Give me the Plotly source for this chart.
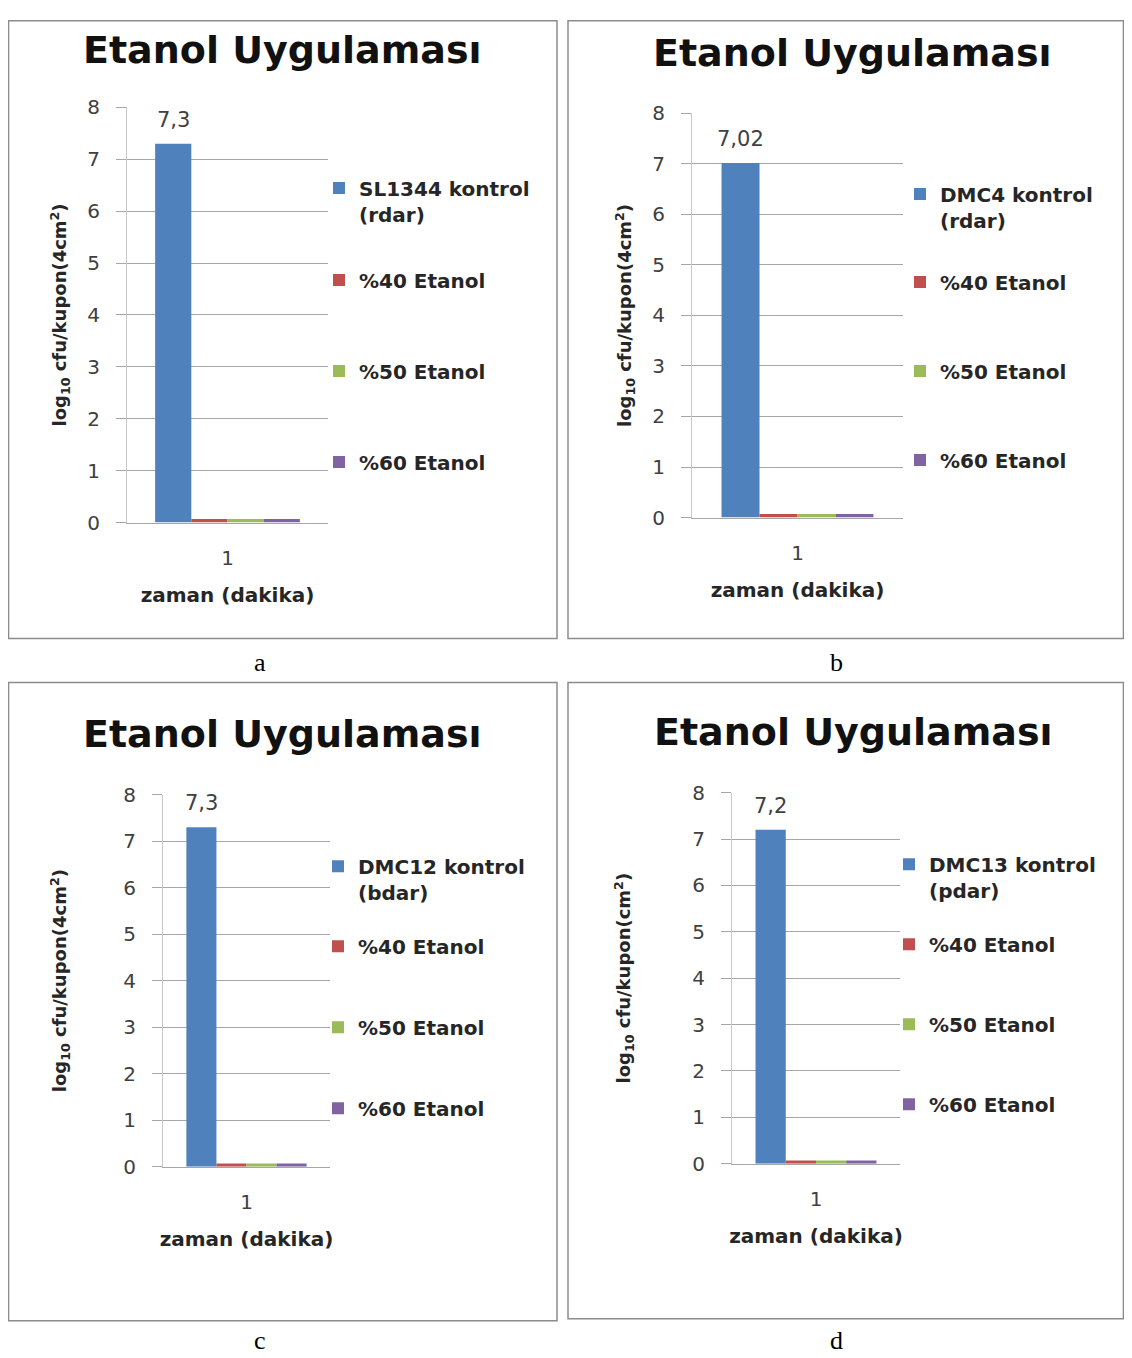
import plotly.graph_objects as go

# ---------------- data ----------------
categories = ["1"]
control_names = ["SL1344 kontrol<br>(rdar)", "DMC4 kontrol<br>(rdar)",
                 "DMC12 kontrol<br>(bdar)", "DMC13 kontrol<br>(pdar)"]
control_values = [7.3, 7.02, 7.3, 7.2]
etanol40_values = [0.07, 0.07, 0.07, 0.07]
etanol50_values = [0.07, 0.07, 0.07, 0.07]
etanol60_values = [0.07, 0.07, 0.07, 0.07]
etanol_names = ["%40 Etanol", "%50 Etanol", "%60 Etanol"]
y_titles = ["log<sub>10</sub> cfu/kupon(4cm<sup>2</sup>)",
            "log<sub>10</sub> cfu/kupon(4cm<sup>2</sup>)",
            "log<sub>10</sub> cfu/kupon(4cm<sup>2</sup>)",
            "log<sub>10</sub> cfu/kupon(cm<sup>2</sup>)"]
y_tick_values = [0, 1, 2, 3, 4, 5, 6, 7, 8]
chart_title = "Etanol Uygulaması"
x_title = "zaman (dakika)"
captions = ["a", "b", "c", "d"]

# ---------------- styling / layout (target pixels) ----------------
W, H = 1116, 1358
OX, OY, SY = 8, 20, 0.982
colors = ["#4F81BD", "#C0504D", "#9BBB59", "#8064A2"]
BARGAP = 0.28
panels = [
    dict(plot=(127, 328, 107, 522), title=(282, 50), leg=(341, 188), leg2=280, leggap=62, ystand=15,
         box=(5, 2, 557, 638), cap=(260, 662)),
    dict(plot=(692, 903, 113, 517), title=(852, 53), leg=(922, 194), leg2=282, leggap=60, ystand=15,
         box=(568, 2, 1131, 638), cap=(836, 662)),
    dict(plot=(163, 330, 794, 1166), title=(282, 733), leg=(340, 866), leg2=946, leggap=52, ystand=51,
         box=(5, 682, 557, 1320), cap=(260, 1340)),
    dict(plot=(732, 900, 792, 1163), title=(853, 731), leg=(911, 864), leg2=944, leggap=51, ystand=56,
         box=(568, 682, 1131, 1318), cap=(836, 1340)),
]
FONT = "DejaVu Sans"
GRID = "#A6A6A6"


def fx(px):
    return min(max((px - OX) / W, 0.0005), 0.9995)


def fy(py):
    return min(max(1 - (py / SY - OY) / H, 0.0005), 0.9995)


fig = go.Figure()
layout = dict(width=W, height=H, margin=dict(l=0, r=0, t=0, b=0),
              paper_bgcolor="white", plot_bgcolor="white", showlegend=True,
              barmode="group", bargap=BARGAP, bargroupgap=0,
              annotations=[], shapes=[], font=dict(family=FONT))

legend_font = dict(family=FONT, size=20, color="#262626", weight="bold")

for i, p in enumerate(panels):
    k = "" if i == 0 else str(i + 1)
    xa, ya = "x" + k, "y" + k
    leg_ctrl = "legend" if i == 0 else f"legend{2 * i + 1}"
    leg_et = f"legend{2 * i + 2}"
    series = [(control_names[i], control_values[i], leg_ctrl)] + [
        (etanol_names[j], [etanol40_values, etanol50_values, etanol60_values][j][i], leg_et)
        for j in range(3)]
    for s, (name, val, lg) in enumerate(series):
        fig.add_trace(go.Bar(x=categories, y=[val], name=name, marker_color=colors[s],
                             marker_line_width=0, xaxis=xa, yaxis=ya, legend=lg,
                             showlegend=True,
                             legendgroup=f"g{i}_{s}", hoverinfo="skip"))
    x0, x1, y0, y1 = p["plot"]
    layout["xaxis" + k] = dict(domain=[fx(x0), fx(x1)], anchor=ya, type="category",
                               showline=True, linecolor=GRID, ticks="", showgrid=False,
                               tickfont=dict(family=FONT, size=20, color="#404040"),
                               ticklabelstandoff=17,
                               title=dict(text=f"<b>{x_title}</b>", standoff=19,
                                          font=dict(family=FONT, size=20, color="#262626")))
    layout["yaxis" + k] = dict(domain=[fy(y1), fy(y0)], anchor=xa, range=[0, 8],
                               tickvals=y_tick_values, showgrid=True, gridcolor=GRID, gridwidth=1,
                               zeroline=False, showline=True, linecolor="#C8C8C8",
                               ticks="outside", ticklen=10, tickcolor=GRID,
                               ticklabelstandoff=12,
                               tickfont=dict(family=FONT, size=20, color="#404040"),
                               title=dict(text=f"<b>{y_titles[i]}</b>", standoff=p["ystand"],
                                          font=dict(family=FONT, size=18, color="#262626")))
    lx, ly = p["leg"]
    layout[leg_ctrl] = dict(x=fx(lx - 22), y=fy(ly - 20), xanchor="left", yanchor="top",
                            xref="paper", yref="paper", valign="top", visible=True,
                            bgcolor="rgba(0,0,0,0)", font=legend_font)
    layout[leg_et] = dict(x=fx(lx - 22), y=fy(p["leg2"] - 20), xanchor="left", yanchor="top",
                          xref="paper", yref="paper", tracegroupgap=p["leggap"], valign="top",
                          visible=True, bgcolor="rgba(0,0,0,0)", font=legend_font)
    # data label above the control bar
    n = len(series)
    grp = 1 - BARGAP
    offset = -grp / 2 + grp / n / 2
    layout["annotations"].append(dict(
        x=categories.index(categories[0]) + offset, y=control_values[i], xref=xa, yref=ya,
        text=f"{control_values[i]:g}".replace(".", ","), showarrow=False,
        yanchor="bottom", yshift=10, font=dict(family=FONT, size=21, color="#404040")))
    # chart title
    tx, ty = p["title"]
    layout["annotations"].append(dict(x=fx(tx), y=fy(ty), xref="paper", yref="paper",
                                      text=f"<b>{chart_title}</b>", showarrow=False,
                                      xanchor="center", yanchor="middle",
                                      font=dict(family=FONT, size=38, color="#111111")))
    # caption
    cx, cy = p["cap"]
    layout["annotations"].append(dict(x=fx(cx), y=fy(cy), xref="paper", yref="paper",
                                      text=captions[i], showarrow=False,
                                      xanchor="center", yanchor="middle",
                                      font=dict(family="Liberation Serif", size=26, color="black")))
    bx0, by0, bx1, by1 = p["box"]
    layout["shapes"].append(dict(type="rect", xref="paper", yref="paper",
                                 x0=fx(bx0), x1=fx(bx1), y0=fy(by1), y1=fy(by0),
                                 line=dict(color="#8C8C8C", width=1.5)))

fig.update_layout(**layout)
fig.write_html("out.html")
